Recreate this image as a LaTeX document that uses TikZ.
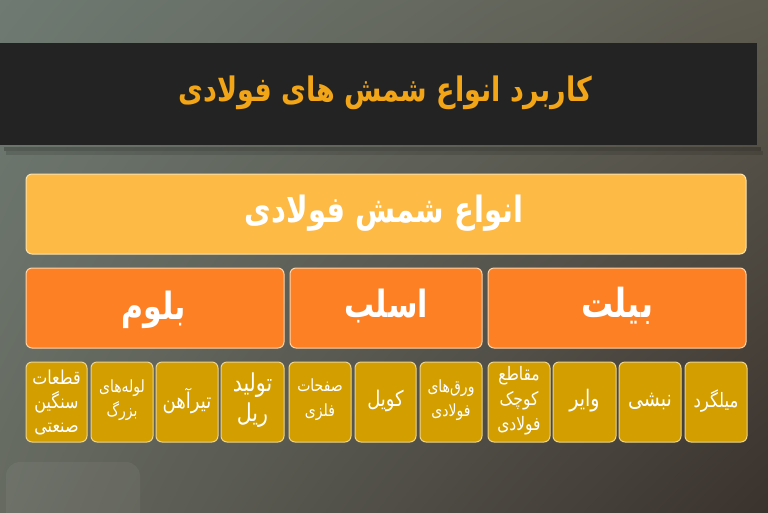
\documentclass[tikz,border=0pt]{standalone}
\usepackage{fontspec}
\usepackage{graphicx}
\usetikzlibrary{shadings}
\TeXXeTstate=1
\newfontfamily\arabicfont[Script=Arabic]{DejaVu Sans}
\newfontfamily\arabicbold[Script=Arabic]{DejaVu Sans Bold}
\newcommand{\fa}[1]{\scalebox{1}[1.2]{\arabicfont\beginR #1\endR}}
\newcommand{\fab}[1]{\scalebox{1}[1.25]{\arabicbold\beginR #1\endR}}
\definecolor{bandc}{HTML}{232323}
\definecolor{titlec}{HTML}{F2A516}
\definecolor{yelc}{HTML}{FDBA45}
\definecolor{yelb}{HTML}{FCE3AE}
\definecolor{orc}{HTML}{FD8025}
\definecolor{orb}{HTML}{FFD3A8}
\definecolor{musc}{HTML}{D29E00}
\definecolor{musb}{HTML}{ECD48E}
\definecolor{bgul}{HTML}{6E7A72}
\definecolor{bgur}{HTML}{5E5B50}
\definecolor{bgll}{HTML}{666A60}
\definecolor{bglr}{HTML}{3A322D}
\tikzset{
  box/.style={draw, line width=1pt, rounded corners=6pt, inner sep=0pt},
  topbox/.style={box, fill=yelc, draw=yelb},
  midbox/.style={box, fill=orc, draw=orb},
  lowbox/.style={box, fill=musc, draw=musb},
  lbl/.style={text=white, align=center, inner sep=0pt}
}
\begin{document}
\begin{tikzpicture}[x=1pt,y=-1pt]
\useasboundingbox (0,0) rectangle (768,512);
\shade[upper left=bgul, upper right=bgur, lower left=bgll, lower right=bglr] (0,0) rectangle (768,512);
% faint watermark
\fill[white, opacity=0.05, rounded corners=14pt] (6,462) rectangle (140,530);
% band shadow
\fill[black, opacity=0.22] (4,147) rectangle (761,151);
\fill[black, opacity=0.12] (6,151) rectangle (763,155);
\node[fill=bandc, minimum width=757pt, minimum height=102pt, inner sep=0pt, anchor=north west] (band) at (0,43) {};
\node[text=titlec, font=\fontsize{27}{34}\selectfont] (title) at (385.5,93) {\fab{کاربرد انواع شمش های فولادی}};
% top box
\draw[topbox] (26,174) rectangle (746,254);
\node[lbl, font=\fontsize{29}{34}\selectfont] (types) at (384,213) {\fab{انواع شمش فولادی}};
% middle boxes
\draw[midbox] (26,268) rectangle (284,348);
\node[lbl, font=\fontsize{30}{34}\selectfont] (bloom) at (154,310) {\fab{بلوم}};
\draw[midbox] (290,268) rectangle (482,348);
\node[lbl, font=\fontsize{30}{34}\selectfont] (slab) at (386,306) {\fab{اسلب}};
\draw[midbox] (488,268) rectangle (746,348);
\node[lbl, font=\fontsize{32}{34}\selectfont] (billet) at (617,306) {\fab{بیلت}};
% lower boxes
\draw[lowbox] (26,362) rectangle (87,442);
\node[lbl, font=\fontsize{16}{24}\selectfont] (b1) at (56.5,402) {\fa{قطعات}\\\fa{سنگین}\\\fa{صنعتی}};
\draw[lowbox] (91,362) rectangle (153,442);
\node[lbl, font=\fontsize{14}{24}\selectfont] (b2) at (122,400) {\fa{لوله‌های}\\\fa{بزرگ}};
\draw[lowbox] (156,362) rectangle (218,442);
\node[lbl, font=\fontsize{18}{24}\selectfont] (b3) at (187,401) {\fa{تیرآهن}};
\draw[lowbox] (221,362) rectangle (284,442);
\node[lbl, font=\fontsize{20.5}{30}\selectfont] (b4) at (252.5,400) {\fa{تولید}\\\fa{ریل}};
\draw[lowbox] (289,362) rectangle (351,442);
\node[lbl, font=\fontsize{14}{25}\selectfont] (s1) at (320,400) {\fa{صفحات}\\\fa{فلزی}};
\draw[lowbox] (355,362) rectangle (416,442);
\node[lbl, font=\fontsize{18}{24}\selectfont] (s2) at (385.5,401) {\fa{کویل}};
\draw[lowbox] (420,362) rectangle (482,442);
\node[lbl, font=\fontsize{14}{24}\selectfont] (s3) at (451,400) {\fa{ورق‌های}\\\fa{فولادی}};
\draw[lowbox] (488,362) rectangle (550,442);
\node[lbl, font=\fontsize{15.5}{25}\selectfont] (t1) at (519,401) {\fa{مقاطع}\\\fa{کوچک}\\\fa{فولادی}};
\draw[lowbox] (553,362) rectangle (616,442);
\node[lbl, font=\fontsize{19}{24}\selectfont] (t2) at (584.5,401) {\fa{وایر}};
\draw[lowbox] (619,362) rectangle (681,442);
\node[lbl, font=\fontsize{19}{24}\selectfont] (t3) at (650,401) {\fa{نبشی}};
\draw[lowbox] (685,362) rectangle (747,442);
\node[lbl, font=\fontsize{16.5}{24}\selectfont] (t4) at (716,401) {\fa{میلگرد}};
\end{tikzpicture}
\end{document}
